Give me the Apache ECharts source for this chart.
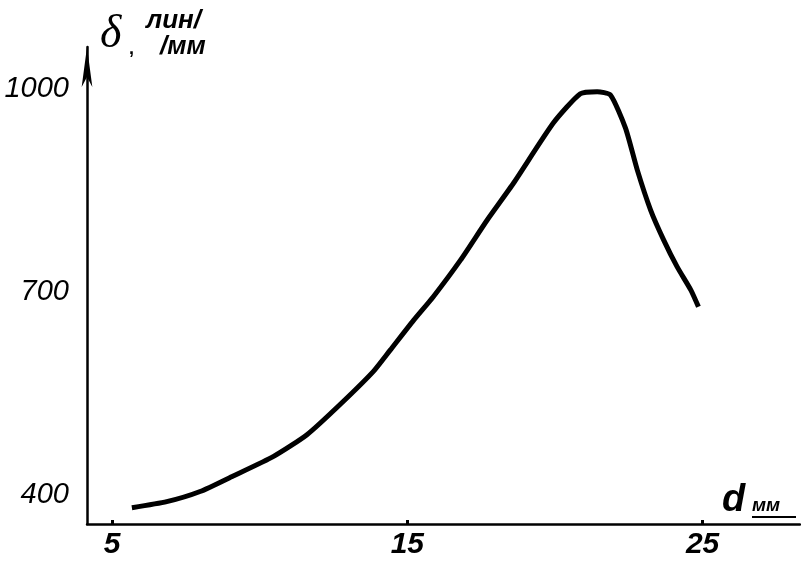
<!DOCTYPE html>
<html><head><meta charset="utf-8">
<script src="https://cdn.jsdelivr.net/npm/echarts@6/dist/echarts.min.js"></script>
<style>html,body{margin:0;padding:0;background:#fff}#c{width:801px;height:564px}</style>
</head><body><div id="c"></div>
<script>
// Data (d in mm, δ in lines/mm)
var dValues = [5.67, 6.85, 7.98, 9.10, 10.47, 11.60, 12.73, 13.86, 14.42, 15.21, 15.88, 16.8, 17.7, 18.6, 19.95, 20.86, 21.43, 21.88, 22.39, 22.79, 23.24, 23.68, 24.14, 24.6, 24.86];
var deltaValues = [381, 390, 405, 428, 457, 489, 534, 583, 614, 658, 693, 747, 806, 861, 950, 993, 996, 991, 942, 880, 821, 777, 737, 703, 678];
var xTickLabels = [5, 15, 25];
var yTickLabels = [400, 700, 1000];

var chart = echarts.init(document.getElementById('c'));
var pts = dValues.map(function(d, i){ return [d, deltaValues[i]]; });
var labelFont = 'Liberation Sans';
chart.setOption({
  animation: false,
  backgroundColor: '#fff',
  grid: {left: 87, right: 1, top: 47, bottom: 40, containLabel: false},
  xAxis: {
    type: 'value', min: 4.15, max: 28.3,
    splitLine: {show: false},
    axisLine: {lineStyle: {color: '#000', width: 2.5}},
    axisTick: {show: true, customValues: xTickLabels, length: 4, inside: true, lineStyle: {color: '#000', width: 3}},
    axisLabel: {customValues: xTickLabels, color: '#000', fontFamily: labelFont, fontStyle: 'italic', fontWeight: 'bold', fontSize: 30, margin: 6}
  },
  yAxis: {
    type: 'value', min: 357, max: 1062,
    splitLine: {show: false},
    axisLine: {lineStyle: {color: '#000', width: 2.5}, symbol: ['none', 'arrow'], symbolSize: [8, 40]},
    axisTick: {show: false},
    axisLabel: {customValues: yTickLabels, formatter: function(v){ return String(v); }, color: '#000', fontFamily: labelFont, fontStyle: 'italic', fontSize: 29, margin: 18}
  },
  graphic: [
    {type: 'text', left: 100, top: 12, style: {text: 'δ', font: 'italic 46px "Liberation Serif"', fill: '#000'}},
    {type: 'text', left: 129, top: 40, style: {text: ',', font: 'bold 18px "Liberation Sans"', fill: '#000'}},
    {type: 'text', left: 146, top: 8, style: {text: 'лин/', font: 'italic bold 26px "Liberation Sans"', fill: '#000'}},
    {type: 'text', left: 160, top: 34, style: {text: '/мм', font: 'italic bold 26px "Liberation Sans"', fill: '#000'}},
    {type: 'text', left: 722, top: 482, style: {text: 'd', font: 'italic bold 38px "Liberation Sans"', fill: '#000'}},
    {type: 'text', left: 752, top: 496, style: {text: 'мм', font: 'italic bold 19px "Liberation Sans"', fill: '#000'}},
    {type: 'line', shape: {x1: 752, y1: 517, x2: 796, y2: 517}, style: {stroke: '#000', lineWidth: 2}}
  ],
  series: [{
    type: 'line', data: pts, smooth: 0.2, symbol: 'none',
    lineStyle: {color: '#000', width: 5}
  }]
});
</script></body></html>
